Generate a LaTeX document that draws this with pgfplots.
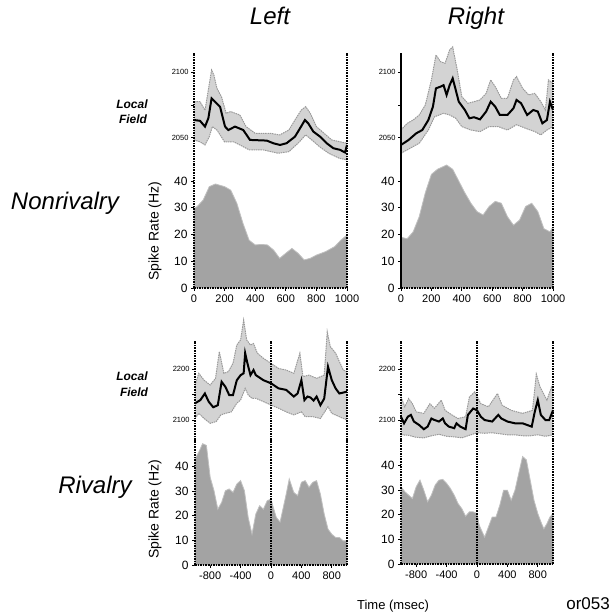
\documentclass[border=0pt]{standalone}
\usepackage{pgfplots}
\pgfplotsset{compat=1.18}
\usepackage{fontspec}
\setmainfont{Liberation Sans}
\definecolor{band}{HTML}{D3D3D3}
\definecolor{bandedge}{HTML}{9A9A9A}
\definecolor{spk}{HTML}{A3A3A3}
\definecolor{spkedge}{HTML}{C0C0C0}
\tikzset{
  dline/.style={line width=1.6pt, dash pattern=on 1.6pt off 1pt, black},
  meanl/.style={black, line width=2pt},
  bedge/.style={bandedge, line width=1pt, dash pattern=on 1.5pt off 0.8pt},
  spkarea/.style={fill=spk, draw=spkedge, line width=0.8pt},
}
\pgfplotsset{
  base/.style={scale only axis, /pgf/number format/assume math mode=true,
    axis line style={draw=none}, tick style={black, line width=0.9pt},
    tick align=outside, major tick length=3pt, minor tick length=3pt,
    clip=false, ytick pos=left, xtick pos=bottom,
    /pgf/number format/1000 sep={}},
  lfp/.style={base, xtick=\empty, height=112pt,
    yticklabel style={font=\fontsize{7.5}{9}\selectfont, xshift=1pt}},
  lfpb/.style={base, xtick=\empty, height=99pt,
    yticklabel style={font=\fontsize{7.5}{9}\selectfont, xshift=1pt}},
  spike/.style={base, ymin=0, ytick={0,10,20,30,40},
    yticklabel style={font=\fontsize{12}{13}\selectfont},
    xticklabel style={font=\fontsize{11}{12}\selectfont}},
}
\begin{document}
\begin{tikzpicture}[x=1pt,y=1pt]
\path[use as bounding box] (0,0) rectangle (616,616);
% ================= Top-left =================
\begin{axis}[lfp, at={(194pt,451pt)}, anchor=south west, width=153pt,
  xmin=0, xmax=1000, ymin=2029.5, ymax=2114.4, ytick={2050,2100}, minor ytick={2075}]
\addplot[fill=band, draw=none] coordinates {(0,2077.5)(39,2077.5)(72,2071)(100,2091)(115,2101.5)(130,2097.7)(150,2087.6)(180,2081)(210,2068.7)(240,2070)(270,2068.7)(300,2067.4)(340,2058.6)(400,2053.5)(500,2053.5)(560,2052.3)(620,2056)(660,2063.6)(700,2071)(730,2073.7)(760,2068.7)(800,2058.6)(850,2053.5)(900,2048.5)(950,2047.2)(1000,2046)
(1000,2033.3)(950,2034.6)(880,2038.4)(820,2043.4)(770,2048.5)(730,2052.3)(680,2046)(620,2039.6)(550,2038.4)(450,2041)(360,2041)(300,2044.7)(260,2047)(200,2047)(150,2056)(120,2058.6)(100,2051)(72,2044.7)(40,2047)(0,2048.5)} -- cycle;
\addplot[bedge] coordinates {(0,2077.5)(39,2077.5)(72,2071)(100,2091)(115,2101.5)(130,2097.7)(150,2087.6)(180,2081)(210,2068.7)(240,2070)(270,2068.7)(300,2067.4)(340,2058.6)(400,2053.5)(500,2053.5)(560,2052.3)(620,2056)(660,2063.6)(700,2071)(730,2073.7)(760,2068.7)(800,2058.6)(850,2053.5)(900,2048.5)(950,2047.2)(1000,2046)};
\addplot[bedge] coordinates {(0,2048.5)(40,2047)(72,2044.7)(100,2051)(120,2058.6)(150,2056)(200,2047)(260,2047)(300,2044.7)(360,2041)(450,2041)(550,2038.4)(620,2039.6)(680,2046)(730,2052.3)(770,2048.5)(820,2043.4)(880,2038.4)(950,2034.6)(1000,2033.3)};
\addplot[meanl] coordinates {(0,2063.6)(39,2063)(72,2058.6)(94,2065)(115,2080)(137,2077.5)(170,2073.7)(203,2058.6)(224,2056)(268,2058.6)(322,2056)(366,2048.5)(475,2048)(518,2046)(562,2044.7)(605,2046)(660,2051)(693,2057.3)(725,2063.6)(747,2061)(780,2054.8)(824,2051)(867,2046)(911,2042.2)(954,2041)(987,2039)(1000,2044.7)};
\draw[dline] (rel axis cs:0,0) -- (rel axis cs:0,1);
\draw[dline] (rel axis cs:1,0) -- (rel axis cs:1,1);
\end{axis}
\begin{axis}[spike, at={(194pt,328pt)}, anchor=south west, width=153pt, height=123pt,
  xmin=0, xmax=1000, ymax=46, xtick={0,200,400,600,800,1000}]
\addplot[spkarea] coordinates {(0,29.8)(20,30.4)(60,32.9)(100,37.9)(140,38.9)(200,37.9)(240,36.6)(280,31.7)(320,24.2)(360,17.9)(400,16.1)(440,16.3)(480,16.1)(520,14.2)(560,11.1)(600,13.0)(640,14.8)(680,13.0)(720,10.5)(760,11.1)(800,12.3)(860,13.6)(920,15.5)(960,17.9)(1000,19.8)} \closedcycle;
\draw[dline] (rel axis cs:0,0) -- (rel axis cs:0,1);
\draw[dline] (rel axis cs:1,0) -- (rel axis cs:1,1);
\draw[dline] (rel axis cs:0,0) -- (rel axis cs:1,0);
\end{axis}
% ================= Top-right =================
\begin{axis}[lfp, at={(401pt,451pt)}, anchor=south west, width=152pt,
  xmin=0, xmax=1000, ymin=2029.5, ymax=2114.4, ytick={2050,2100}, minor ytick={2075}]
\addplot[fill=band, draw=none] coordinates {(0,2056)(40,2061)(80,2063.6)(120,2067.4)(160,2075)(200,2094)(230,2112.9)(260,2107.8)(290,2106.6)(320,2116.7)(340,2119)(370,2101.5)(400,2081.3)(440,2076.3)(480,2077.5)(520,2078.8)(560,2083.8)(590,2094)(620,2088.9)(660,2080)(700,2080)(740,2094)(760,2096.5)(800,2087.6)(840,2082.6)(880,2083.8)(920,2077.5)(950,2071.2)(970,2094)(1000,2091.4)
(1000,2058.6)(960,2056)(920,2052.3)(880,2054.8)(820,2057.3)(760,2060)(700,2056)(640,2058.6)(580,2058.6)(520,2054.8)(460,2056)(400,2058.6)(360,2064.9)(320,2067.4)(280,2068.7)(220,2066)(180,2056)(120,2046)(60,2042.2)(0,2038.4)} -- cycle;
\addplot[bedge] coordinates {(0,2056)(40,2061)(80,2063.6)(120,2067.4)(160,2075)(200,2094)(230,2112.9)(260,2107.8)(290,2106.6)(320,2116.7)(340,2119)(370,2101.5)(400,2081.3)(440,2076.3)(480,2077.5)(520,2078.8)(560,2083.8)(590,2094)(620,2088.9)(660,2080)(700,2080)(740,2094)(760,2096.5)(800,2087.6)(840,2082.6)(880,2083.8)(920,2077.5)(950,2071.2)(970,2094)(1000,2091.4)};
\addplot[bedge] coordinates {(0,2038.4)(60,2042.2)(120,2046)(180,2056)(220,2066)(280,2068.7)(320,2067.4)(360,2064.9)(400,2058.6)(460,2056)(520,2054.8)(580,2058.6)(640,2058.6)(700,2056)(760,2060)(820,2057.3)(880,2054.8)(920,2052.3)(960,2056)(1000,2058.6)};
\addplot[meanl] coordinates {(0,2044.7)(50,2048.5)(100,2053.5)(140,2056)(180,2063.6)(210,2073.7)(230,2087.6)(260,2088.9)(280,2090)(300,2082.6)(320,2090)(340,2095.2)(360,2086.4)(380,2077.5)(420,2071.2)(450,2064.9)(480,2065.7)(520,2064.1)(560,2070)(590,2077.5)(620,2073.7)(650,2067.4)(700,2067.4)(740,2072.5)(760,2078.8)(790,2076.3)(830,2067.4)(870,2071.2)(900,2070)(930,2061.1)(960,2063.6)(980,2077.5)(1000,2071.2)};
\draw[black, line width=1.4pt] (rel axis cs:0,0) -- (rel axis cs:0,1);
\draw[dline] (rel axis cs:1,0) -- (rel axis cs:1,1);
\end{axis}
\begin{axis}[spike, at={(401pt,328pt)}, anchor=south west, width=152pt, height=123pt,
  xmin=0, xmax=1000, ymax=46, xtick={0,200,400,600,800,1000}]
\addplot[spkarea] coordinates {(0,19.0)(40,18.4)(80,21)(120,26.7)(160,35.6)(200,42.5)(240,44.4)(300,46)(340,44.4)(380,40)(420,35.6)(460,31.7)(500,28.6)(540,27.3)(580,30.5)(620,32.4)(660,31.7)(700,26.7)(740,23.5)(780,25.4)(820,30.5)(860,31.7)(900,28.6)(940,22.2)(980,21)(1000,22.9)} \closedcycle;
\draw[black, line width=1.4pt] (rel axis cs:0,0) -- (rel axis cs:0,1);
\draw[dline] (rel axis cs:1,0) -- (rel axis cs:1,1);
\draw[dline] (rel axis cs:0,0) -- (rel axis cs:1,0);
\end{axis}
% ================= Bottom-left =================
\begin{axis}[lfpb, at={(195pt,176pt)}, anchor=south west, width=152pt,
  xmin=-1000, xmax=1000, ymin=2060.8, ymax=2254.9, ytick={2100,2200}, minor ytick={2150}]
\addplot[fill=band, draw=none] coordinates {(-1000,2168.6)(-950,2191.5)(-880,2178)(-800,2168.6)(-730,2181.7)(-680,2234)(-620,2191.5)(-560,2195)(-500,2211)(-450,2247)(-400,2257)(-360,2296)(-320,2257)(-270,2247)(-230,2250)(-180,2231)(-100,2221)(0,2211)(100,2201)(200,2198)(300,2191.5)(380,2231)(420,2185)(500,2188)(600,2181.7)(700,2188)(740,2273)(780,2244)(850,2231)(950,2198)(1000,2195)
(1000,2100)(900,2106.5)(800,2113)(750,2126)(650,2103)(550,2106.5)(450,2106.5)(400,2116)(300,2110)(200,2116)(100,2123)(0,2129.4)(-100,2136)(-200,2142.5)(-250,2142.5)(-300,2149)(-340,2162)(-400,2139)(-450,2133)(-520,2116)(-600,2113)(-660,2110)(-720,2097)(-800,2093.5)(-880,2103)(-950,2113)(-1000,2103)} -- cycle;
\addplot[bedge] coordinates {(-1000,2168.6)(-950,2191.5)(-880,2178)(-800,2168.6)(-730,2181.7)(-680,2234)(-620,2191.5)(-560,2195)(-500,2211)(-450,2247)(-400,2257)(-360,2296)(-320,2257)(-270,2247)(-230,2250)(-180,2231)(-100,2221)(0,2211)(100,2201)(200,2198)(300,2191.5)(380,2231)(420,2185)(500,2188)(600,2181.7)(700,2188)(740,2273)(780,2244)(850,2231)(950,2198)(1000,2195)};
\addplot[bedge] coordinates {(-1000,2103)(-950,2113)(-880,2103)(-800,2093.5)(-720,2097)(-660,2110)(-600,2113)(-520,2116)(-450,2133)(-400,2139)(-340,2162)(-300,2149)(-250,2142.5)(-200,2142.5)(-100,2136)(0,2129.4)(100,2123)(200,2116)(300,2110)(400,2116)(450,2106.5)(550,2106.5)(650,2103)(750,2126)(800,2113)(900,2106.5)(1000,2100)};
\addplot[meanl] coordinates {(-1000,2132.7)(-930,2139)(-870,2152)(-820,2136)(-760,2125)(-700,2129)(-650,2175)(-600,2165)(-550,2149)(-500,2149)(-450,2178)(-400,2188)(-360,2191.5)(-340,2231)(-310,2211)(-270,2188)(-230,2198)(-200,2188)(-100,2178)(0,2172)(100,2162)(200,2159)(300,2146)(350,2152)(400,2178)(440,2139)(480,2146)(520,2144)(560,2138)(600,2146)(650,2129)(700,2142)(750,2204.6)(800,2178)(850,2162)(900,2152)(1000,2155.6)};
\draw[dline] (rel axis cs:0,0) -- (rel axis cs:0,1);
\draw[dline] (rel axis cs:1,0) -- (rel axis cs:1,1);
\draw[dline] (axis cs:0,2060.8) -- (axis cs:0,2254.9);
\end{axis}
\begin{axis}[spike, at={(195pt,51pt)}, anchor=south west, width=152pt, height=125pt,
  xmin=-1000, xmax=1000, ymax=50.8, xtick={-800,-400,0,400,800}]
\addplot[spkarea] coordinates {(-1000,43.1)(-950,45.9)(-900,49.3)(-850,48.6)(-800,35.6)(-750,30.2)(-700,22.7)(-650,25.4)(-600,30.2)(-550,30.9)(-500,29.5)(-450,32.9)(-400,34.3)(-350,30.2)(-300,19.3)(-250,12.5)(-200,20.7)(-150,24.1)(-100,22.7)(-50,26.1)(0,26.8)(30,23.4)(70,19.3)(120,17.5)(200,28.8)(240,35)(300,29.5)(350,28.2)(400,33.6)(450,34.3)(500,31.6)(550,33.6)(600,34.3)(650,28.8)(700,20.7)(750,14.6)(800,12.5)(850,11.2)(900,11.2)(950,9.8)(1000,9.8)} \closedcycle;
\draw[dline] (rel axis cs:0,0) -- (rel axis cs:0,1);
\draw[dline] (rel axis cs:1,0) -- (rel axis cs:1,1);
\draw[dline] (rel axis cs:0,0) -- (rel axis cs:1,0);
\draw[dline] (axis cs:0,0) -- (axis cs:0,50.8);
\end{axis}
% ================= Bottom-right =================
\begin{axis}[lfpb, at={(401pt,176pt)}, anchor=south west, width=152pt,
  xmin=-1000, xmax=1000, ymin=2060.8, ymax=2254.9, ytick={2100,2200}, minor ytick={2150}]
\addplot[fill=band, draw=none] coordinates {(-1000,2145)(-950,2126)(-900,2142)(-850,2132)(-800,2116)(-700,2113)(-620,2132)(-560,2123)(-470,2139)(-420,2119)(-330,2110)(-250,2103)(-150,2106.5)(-100,2145)(-30,2155)(50,2132)(150,2126)(270,2152)(330,2129)(450,2119)(600,2113)(730,2119)(780,2190)(830,2164.5)(920,2139)(980,2164.5)(1000,2155)
(1000,2071)(900,2068)(800,2071)(700,2069)(600,2069)(500,2071)(400,2071)(300,2073)(200,2075)(100,2074)(0,2075)(-100,2070)(-200,2065)(-300,2067)(-400,2068)(-500,2072)(-600,2069)(-700,2065)(-800,2066)(-900,2070)(-1000,2071)} -- cycle;
\addplot[bedge] coordinates {(-1000,2145)(-950,2126)(-900,2142)(-850,2132)(-800,2116)(-700,2113)(-620,2132)(-560,2123)(-470,2139)(-420,2119)(-330,2110)(-250,2103)(-150,2106.5)(-100,2145)(-30,2155)(50,2132)(150,2126)(270,2152)(330,2129)(450,2119)(600,2113)(730,2119)(780,2190)(830,2164.5)(920,2139)(980,2164.5)(1000,2155)};
\addplot[bedge] coordinates {(-1000,2071)(-900,2070)(-800,2066)(-700,2065)(-600,2069)(-500,2072)(-400,2068)(-300,2067)(-200,2065)(-100,2070)(0,2075)(100,2074)(200,2075)(300,2073)(400,2071)(500,2071)(600,2069)(700,2069)(800,2071)(900,2068)(1000,2071)};
\addplot[meanl] coordinates {(-1000,2106.5)(-960,2093.5)(-910,2106.5)(-870,2110)(-830,2097)(-760,2090)(-700,2082)(-650,2087)(-600,2103)(-560,2100)(-500,2097)(-450,2103)(-420,2093.5)(-370,2087)(-300,2084)(-270,2093.5)(-220,2087)(-150,2082)(-120,2110)(-50,2122.6)(0,2119)(50,2106.5)(100,2100)(200,2097)(280,2110)(320,2103)(400,2097)(500,2093.5)(600,2093.5)(720,2087)(760,2116)(800,2139)(840,2110)(900,2100)(950,2100)(1000,2119)};
\draw[dline] (rel axis cs:0,0) -- (rel axis cs:0,1);
\draw[dline] (rel axis cs:1,0) -- (rel axis cs:1,1);
\draw[dline] (axis cs:0,2060.8) -- (axis cs:0,2254.9);
\end{axis}
\begin{axis}[spike, at={(401pt,52pt)}, anchor=south west, width=152pt, height=124pt,
  xmin=-1000, xmax=1000, ymax=50.4, xtick={-800,-400,0,400,800}]
\addplot[spkarea] coordinates {(-1000,31.4)(-950,29.4)(-900,28)(-850,26.6)(-800,31.4)(-750,34.1)(-700,30)(-650,25.3)(-600,28)(-550,32.1)(-500,34.1)(-450,34.4)(-400,32.8)(-350,30.7)(-300,28)(-250,24.6)(-200,22.5)(-150,19.4)(-100,21.2)(-50,21.2)(0,20.5)(30,15.7)(100,10.9)(150,15)(200,19.1)(250,19.1)(300,23.9)(350,30)(400,30)(450,25.9)(500,30)(550,36.9)(600,43.7)(650,42.3)(700,34.1)(750,25.9)(800,20.5)(850,16.4)(880,14.3)(920,16.4)(960,19.1)(1000,20.5)} \closedcycle;
\draw[dline] (rel axis cs:0,0) -- (rel axis cs:0,1);
\draw[dline] (rel axis cs:1,0) -- (rel axis cs:1,1);
\draw[dline] (rel axis cs:0,0) -- (rel axis cs:1,0);
\draw[dline] (axis cs:0,0) -- (axis cs:0,50.4);
\end{axis}
% ================= Labels =================
\node[font=\fontsize{24}{28}\selectfont\itshape, anchor=base] at (270,591) {Left};
\node[font=\fontsize{24}{28}\selectfont\itshape, anchor=base] at (476,591) {Right};
\node[font=\fontsize{24}{28}\selectfont\itshape] at (65,413) {Nonrivalry};
\node[font=\fontsize{24}{28}\selectfont\itshape] at (95,129) {Rivalry};
\node[font=\fontsize{12}{14}\selectfont\bfseries\itshape] at (132,512) {Local};
\node[font=\fontsize{12}{14}\selectfont\bfseries\itshape] at (133,497) {Field};
\node[font=\fontsize{12}{14}\selectfont\bfseries\itshape] at (132,240) {Local};
\node[font=\fontsize{12}{14}\selectfont\bfseries\itshape] at (134,224) {Field};
\node[font=\fontsize{14}{16}\selectfont, rotate=90] at (155,385) {Spike Rate (Hz)};
\node[font=\fontsize{14}{16}\selectfont, rotate=90] at (155,107) {Spike Rate (Hz)};
\node[font=\fontsize{13}{15}\selectfont, anchor=base] at (393,6) {Time (msec)};
\node[font=\fontsize{17}{20}\selectfont, anchor=base east, inner sep=0pt] at (610,6) {or053};
\end{tikzpicture}
\end{document}
